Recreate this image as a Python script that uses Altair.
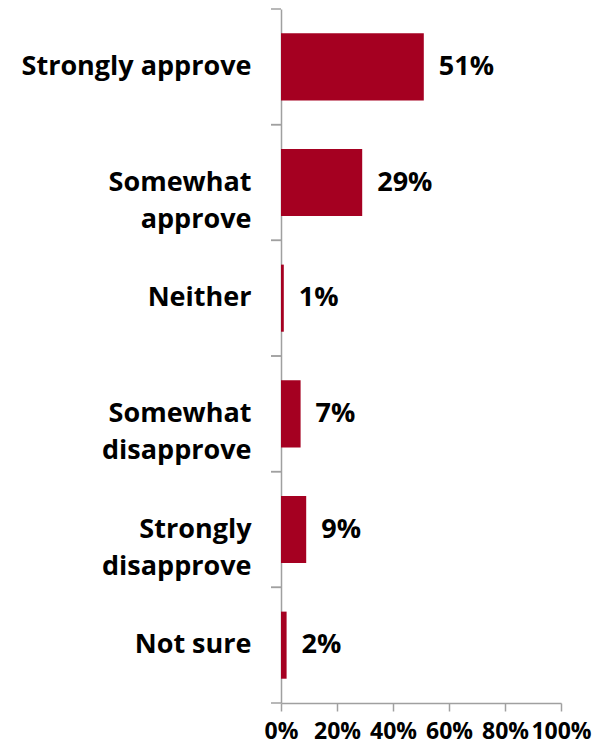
import altair as alt
import pandas as pd

categories = ["Strongly approve", "Somewhat\napprove", "Neither",
              "Somewhat\ndisapprove", "Strongly\ndisapprove", "Not sure"]
values = [51, 29, 1, 7, 9, 2]
x_ticks = [0, 20, 40, 60, 80, 100]

df = pd.DataFrame({"cat": categories, "val": values,
                   "lab": [f"{v}%" for v in values]})

FONT = "Open Sans"
GRAY = "#a0a0a0"
BAR = "#A50021"

y_enc = alt.Y("cat:N", sort=categories,
              scale=alt.Scale(paddingInner=0, paddingOuter=0),
              axis=alt.Axis(title=None, ticks=False, domain=True,
                            domainColor=GRAY, domainWidth=1.5,
                            labelFont=FONT, labelFontWeight="bold",
                            labelFontSize=27, labelColor="black",
                            labelPadding=30, labelAlign="right",
                            labelLineHeight=37, labelLimit=400,
                            labelExpr="split(datum.label, '\\n')",
                            minExtent=273, maxExtent=273))

x_enc = alt.X("val:Q",
              scale=alt.Scale(domain=[0, 100], nice=False, zero=True),
              axis=alt.Axis(title=None, values=x_ticks, grid=False,
                            domainColor=GRAY, domainWidth=1.5,
                            tickColor=GRAY, tickWidth=1.5, tickSize=8,
                            labelFont=FONT, labelFontWeight="bold",
                            labelFontSize=23, labelColor="black",
                            labelPadding=9, labelFlush=False,
                            labelOverlap=False,
                            labelExpr="datum.value + '%'"))

bars = alt.Chart(df).mark_bar(color=BAR, height=alt.RelativeBandSize(0.58)).encode(
    x=x_enc, y=y_enc)

texts = alt.Chart(df).mark_text(align="left", baseline="middle", dx=15,
                                font=FONT, fontWeight="bold", fontSize=27,
                                color="black").encode(
    x=alt.X("val:Q"), y=alt.Y("cat:N", sort=categories), text="lab:N")

ticks_top = alt.Chart(df).mark_rule(color=GRAY, strokeWidth=1.5).encode(
    x=alt.value(-10), x2=alt.value(0),
    y=alt.Y("cat:N", sort=categories, bandPosition=0))

ticks_bot = alt.Chart(df).mark_rule(color=GRAY, strokeWidth=1.5).encode(
    x=alt.value(-10), x2=alt.value(0),
    y=alt.Y("cat:N", sort=categories, bandPosition=1))

chart = alt.layer(bars, texts, ticks_top, ticks_bot).properties(
    width=280, height=694,
    padding={"left": 0, "top": 0, "right": 5, "bottom": 5},
).configure_view(stroke=None)

chart.save("out.html", embed_options={"renderer": "svg", "actions": False})
